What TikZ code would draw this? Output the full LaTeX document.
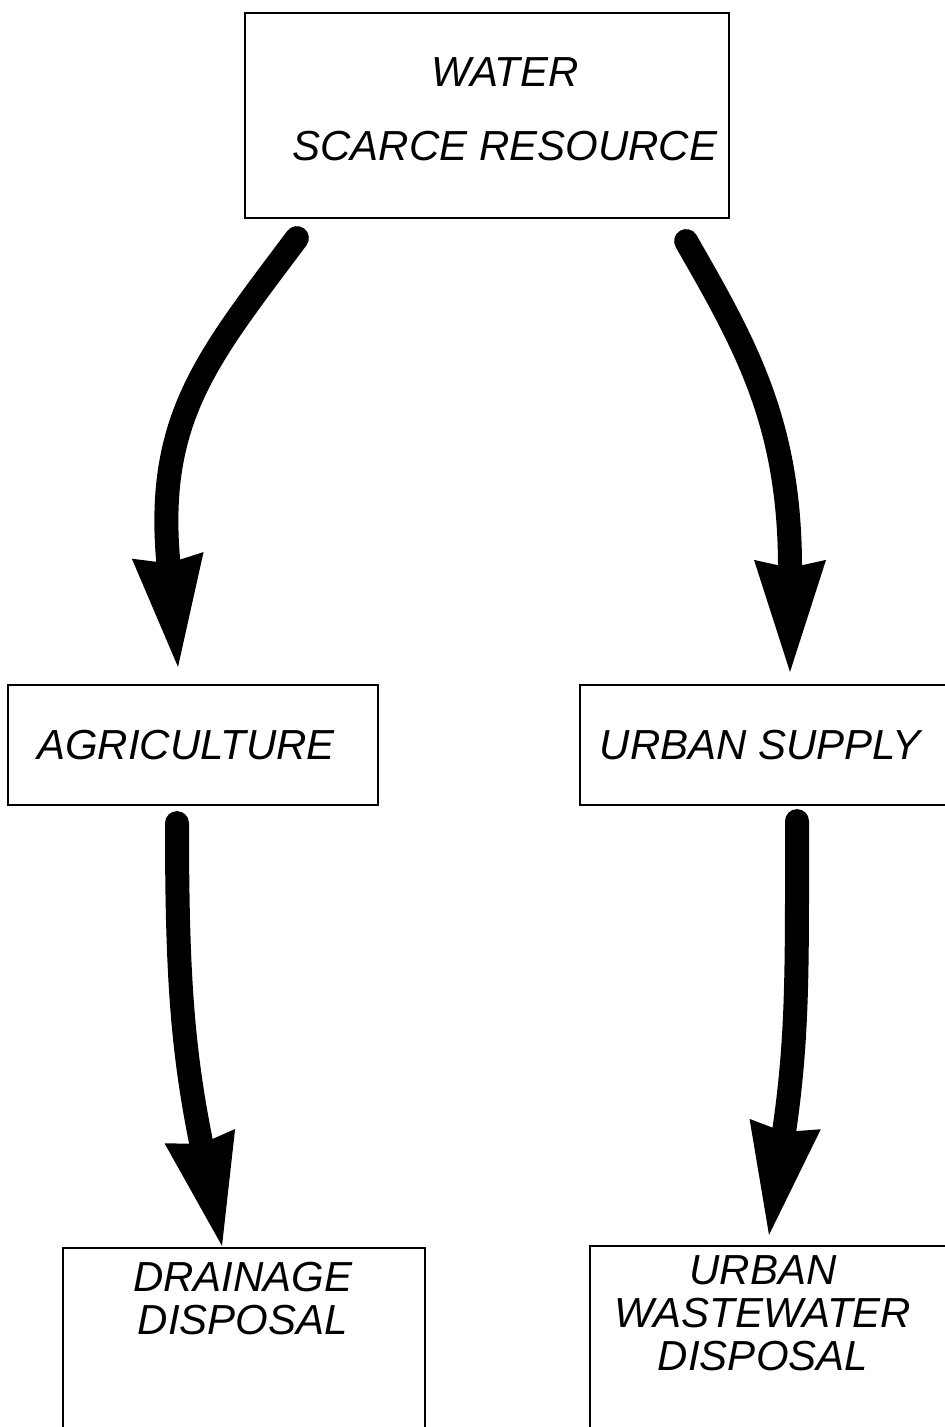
\documentclass[tikz,border=0pt]{standalone}
\usepackage{fontspec}
\setmainfont{Liberation Sans}
\usetikzlibrary{arrows.meta,calc}

\tikzset{
  box/.style={draw, line width=1.1pt, rectangle, inner sep=0pt},
  lbl/.style={font=\fontsize{21}{21.5}\selectfont\itshape, align=center, inner sep=0pt},
  flow/.style={line width=12pt, line cap=round,
    -{Stealth[length=56pt,width=36pt,inset=4pt,line width=0pt]}}
}

\begin{document}
\begin{tikzpicture}[x=0.5pt, y=-0.5pt]
  \useasboundingbox (0,0) rectangle (945,1427);

  % Boxes
  \node[box, minimum width=242pt, minimum height=102.5pt] (water) at (487,115.5) {};
  \node[box, minimum width=185pt, minimum height=60pt]    (agri)  at (193,745) {};
  \node[box, minimum width=190pt, minimum height=60pt]    (urban) at (770,745) {};
  \node[box, minimum width=181pt, minimum height=126pt]   (drain) at (244,1374) {};
  \node[box, minimum width=185pt, minimum height=127pt]   (waste) at (775,1373) {};

  % Labels
  \node[lbl, font=\fontsize{21}{37}\selectfont\itshape] (water-t) at (505,109) {WATER\\SCARCE RESOURCE};
  \node[lbl] (agri-t)  at (186,745)  {AGRICULTURE};
  \node[lbl] (urban-t) at (760,745)  {URBAN SUPPLY};
  \node[lbl] (drain-t) at (243,1299) {DRAINAGE\\DISPOSAL};
  \node[lbl] (waste-t) at (763,1313) {URBAN\\WASTEWATER\\DISPOSAL};

  % Flows
  \draw[flow] ($(water.south west)+(53,19)$) .. controls (208,357) and (155,418) .. ($(agri.north)+(-15,-17)$);
  \draw[flow] ($(water.south east)+(-44,22)$) .. controls (745,344) and (790,422) .. ($(urban.north)+(20,-12)$);
  \draw[flow] ($(agri.south)+(-16,17)$) .. controls (177,972) and (182,1048) .. ($(drain.north)+(-22,-1)$);
  \draw[flow] ($(urban.south)+(27,15)$) .. controls (797,970) and (798,1036) .. ($(waste.north)+(-6,-10)$);

\end{tikzpicture}
\end{document}
